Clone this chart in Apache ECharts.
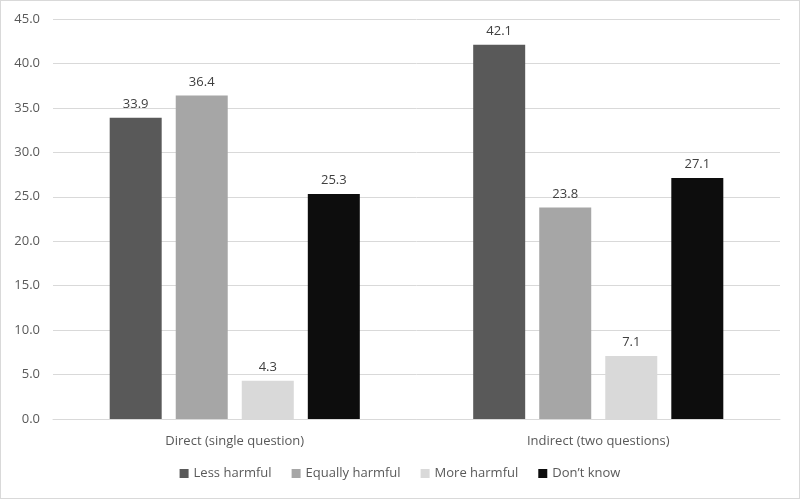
<!DOCTYPE html>
<html><head><meta charset="utf-8">
<script src="https://cdn.jsdelivr.net/npm/echarts@6/dist/echarts.min.js"></script>
<style>html,body{margin:0;padding:0;background:#fff}#c{width:798px;height:497px;border:1px solid #d9d9d9}</style>
</head><body><div id="c"></div>
<script>
const categories = ["Direct (single question)", "Indirect (two questions)"];
const seriesNames = ["Less harmful", "Equally harmful", "More harmful", "Don\u2019t know"];
const lessHarmful = [33.9, 42.1];
const equallyHarmful = [36.4, 23.8];
const moreHarmful = [4.3, 7.1];
const dontKnow = [25.3, 27.1];
const colors = ["#595959", "#a6a6a6", "#d9d9d9", "#0d0d0d"];
const values = [lessHarmful, equallyHarmful, moreHarmful, dontKnow];
const font = "'Open Sans', 'Noto Sans', sans-serif";
const chart = echarts.init(document.getElementById('c'));
chart.setOption({
  animation: false,
  textStyle: {fontFamily: font},
  grid: {left: 52, right: 19, top: 18, bottom: 79, containLabel: false},
  legend: {
    bottom: 13, left: 'center', itemWidth: 9, itemHeight: 9, itemGap: 20,
    icon: 'rect',
    textStyle: {color: '#595959', fontSize: 13, fontFamily: font},
    data: seriesNames
  },
  xAxis: {
    type: 'category', data: categories,
    axisLine: {lineStyle: {color: '#d9d9d9'}},
    axisTick: {show: false},
    axisLabel: {color: '#595959', fontSize: 13, margin: 16, fontFamily: font}
  },
  yAxis: {
    type: 'value', min: 0, max: 45, interval: 5,
    axisLabel: {color: '#595959', fontSize: 13, margin: 13, fontFamily: font,
      formatter: v => v.toFixed(1)},
    splitLine: {lineStyle: {color: '#d9d9d9'}},
    axisLine: {show: false}, axisTick: {show: false}
  },
  series: values.map((v, i) => ({
    name: seriesNames[i], type: 'bar', data: v,
    barWidth: 52, barGap: '27%',
    itemStyle: {color: colors[i]},
    label: {show: true, position: 'top', distance: 7, color: '#404040', fontSize: 13, fontFamily: font,
      formatter: p => p.value.toFixed(1)}
  }))
});
</script></body></html>
